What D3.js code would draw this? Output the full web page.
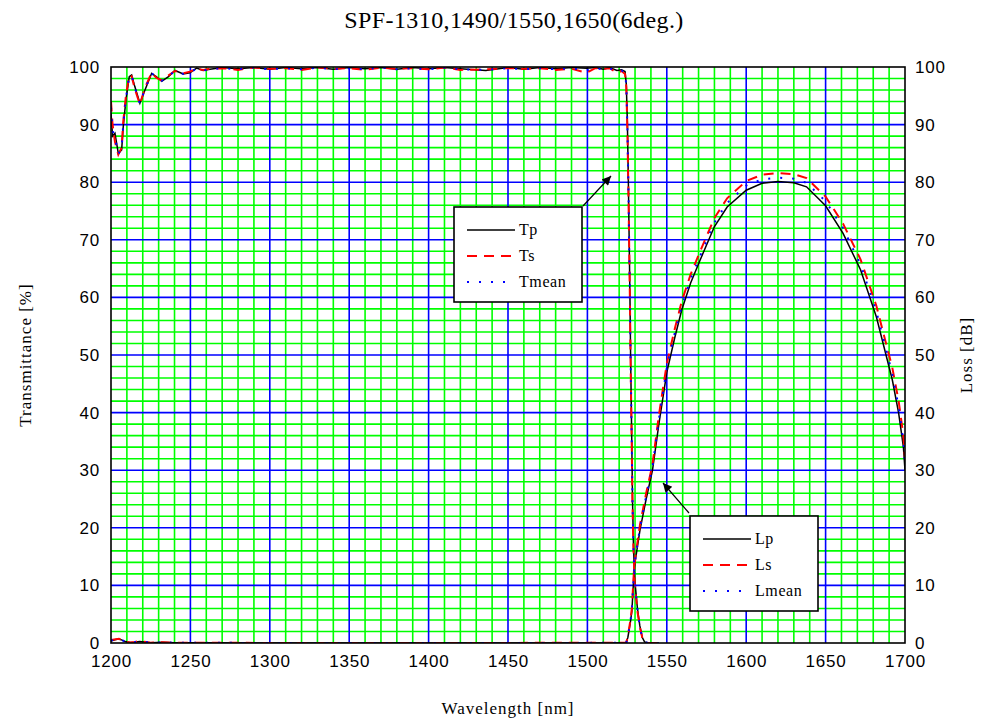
<!DOCTYPE html>
<html>
<head>
<meta charset="utf-8">
<script src="https://cdn.jsdelivr.net/npm/d3@7"></script>
<style>
  body { margin: 0; background: #fff; }
  svg { display: block; }
</style>
</head>
<body>
<div id="chart"></div>
<script>
// transmittance side (wavelength nm / percent)
var tWl = [1200,1201,1202.5,1204.6,1206.7,1207.7,1209.4,1211.5,1213,1215,1218.2,1221.4,1225.6,1228.7,1231.9,1236,1240.3,1245.5,1249.7,1253.9,1258,1262.3,1270,1280,1290,1300,1310,1320,1330,1340,1350,1360,1370,1380,1390,1400,1410,1420,1436,1450,1460,1470,1480,1490,1499.5,1505,1510,1514,1518.6,1521.5,1523.7,1524.5,1525.2,1525.8,1526.3,1526.8,1527.2,1527.8,1528.4,1529,1529.8,1531.5,1533,1534.5,1536,1538,1545];
var tp = [92,88,88.5,85,85.6,89.6,94.3,98.3,98.6,96.6,93.7,96,98.9,98.3,97.5,98.3,99.4,98.8,99,99.8,99.4,99.6,99.9,99.7,99.9,99.6,99.9,99.7,99.9,99.6,99.9,99.7,99.9,99.6,99.9,99.7,99.9,99.7,99.4,99.9,99.6,99.9,99.7,99.9,99.8,99.9,99.6,99.9,99.4,99.5,99.2,97,90,80,70,60,50,38,25,17,11,6,3,1,0.2,0,0];
var ts = [94,90,87,84.8,86,90.5,95,98.6,98.4,96.2,93.5,96.4,99,98.1,97.7,98.5,99.3,98.9,99.2,99.7,99.5,99.7,99.8,99.5,99.9,99.7,99.8,99.5,99.9,99.7,99.8,99.5,99.9,99.7,99.8,99.6,99.9,99.5,99.6,99.8,99.7,99.8,99.5,99.7,99,99.8,99.7,99.8,99,99.3,98.8,96.5,89,79,69,59,49,37,24,16.5,10.5,5.5,2.8,1,0.2,0,0];
var tmean = [93,89,87.8,84.9,85.8,90,94.6,98.5,98.5,96.4,93.6,96.2,98.9,98.2,97.6,98.4,99.3,98.8,99.1,99.7,99.4,99.6,99.8,99.6,99.9,99.6,99.8,99.6,99.9,99.6,99.8,99.6,99.9,99.6,99.8,99.6,99.9,99.6,99.5,99.8,99.6,99.8,99.6,99.8,99.4,99.8,99.6,99.8,99.2,99.4,99,96.8,89.5,79.5,69.5,59.5,49.5,37.5,24.5,16.8,10.8,5.8,2.9,1,0.2,0,0];

// loss side (wavelength nm / dB)
var lWl = [1200,1203,1205,1207,1209,1212,1215,1218,1221,1225,1229,1232,1236,1240,1250,1300,1400,1500,1520,1524.5,1525.5,1527,1528,1529.3,1530.2,1533.1,1537,1541,1545,1550,1555,1559.4,1565,1571,1580,1588,1600,1610,1620,1630,1638,1650,1661,1672,1682,1692,1696,1699,1700];
var lp = [0.35,0.6,0.7,0.5,0.25,0.07,0.15,0.28,0.18,0.05,0.08,0.11,0.08,0.03,0.04,0.01,0.01,0.02,0.04,0.1,1,3.5,5.5,12,14.4,19.6,25,30,38,47,53,57.8,62.5,66.5,72.3,75.7,78.6,79.8,80.1,79.9,79.2,75.9,71.1,64.8,56.6,45.7,39.9,34,30];
var ls = [0.5,0.65,0.75,0.45,0.2,0.08,0.18,0.32,0.2,0.06,0.1,0.13,0.09,0.03,0.05,0.01,0.01,0.03,0.05,0.1,1.2,3.8,6,12.5,15,20.5,26,31,39.5,48.5,54.5,59.3,64,68,73.8,77.2,80.2,81.3,81.6,81.4,80.7,77.5,72.8,66.6,58.5,47.8,42,36,32];
var lmean = [0.42,0.62,0.72,0.48,0.22,0.08,0.16,0.3,0.19,0.05,0.09,0.12,0.08,0.03,0.04,0.01,0.01,0.02,0.04,0.1,1.1,3.6,5.8,12.2,14.7,20,25.5,30.5,38.8,47.8,53.8,58.5,63.2,67.2,73,76.4,79.4,80.5,80.8,80.6,79.9,76.7,72,65.7,57.5,46.7,41,35,31];

var xTicks = [1200,1250,1300,1350,1400,1450,1500,1550,1600,1650,1700];
var yTicks = [0,10,20,30,40,50,60,70,80,90,100];
var tNames = ["Tp", "Ts", "Tmean"];
var lNames = ["Lp", "Ls", "Lmean"];

var width = 985, height = 719;
var margin = {top: 67, right: 80, bottom: 76, left: 111};
var w = width - margin.left - margin.right;
var h = height - margin.top - margin.bottom;

var svg = d3.select("#chart").append("svg")
    .attr("width", width)
    .attr("height", height);

var x = d3.scaleLinear().domain([1200, 1700]).range([0, w]);
var y = d3.scaleLinear().domain([0, 100]).range([h, 0]);
var yR = d3.scaleLinear().domain([0, 100]).range([h, 0]);

var g = svg.append("g").attr("transform", "translate(" + margin.left + "," + margin.top + ")");

g.append("defs").append("clipPath").attr("id", "clip")
    .append("rect").attr("width", w).attr("height", h);

svg.append("defs").append("marker")
    .attr("id", "arrow")
    .attr("viewBox", "0 0 10 10")
    .attr("refX", 10).attr("refY", 5)
    .attr("markerWidth", 11).attr("markerHeight", 9)
    .attr("markerUnits", "userSpaceOnUse")
    .attr("orient", "auto")
    .append("path").attr("d", "M0,0L10,5L0,10z").attr("fill", "#000");

// grid: green minor first, blue major on top
var minorX = d3.range(1210, 1700, 10).filter(function (d) { return d % 50 != 0; });
var minorY = d3.range(2, 100, 2).filter(function (d) { return d % 10 != 0; });

g.selectAll(".gx").data(minorX).enter().append("line")
    .attr("x1", d => x(d)).attr("x2", d => x(d))
    .attr("y1", 0).attr("y2", h)
    .attr("stroke", "#00ff00").attr("stroke-width", 1.6);
g.selectAll(".gy").data(minorY).enter().append("line")
    .attr("y1", d => y(d)).attr("y2", d => y(d))
    .attr("x1", 0).attr("x2", w)
    .attr("stroke", "#00ff00").attr("stroke-width", 1.6);
g.selectAll(".bx").data(xTicks.slice(1, -1)).enter().append("line")
    .attr("x1", d => x(d)).attr("x2", d => x(d))
    .attr("y1", 0).attr("y2", h)
    .attr("stroke", "#0000ff").attr("stroke-width", 1.6);
g.selectAll(".by").data(yTicks.slice(1, -1)).enter().append("line")
    .attr("y1", d => y(d)).attr("y2", d => y(d))
    .attr("x1", 0).attr("x2", w)
    .attr("stroke", "#0000ff").attr("stroke-width", 1.6);

// curves
var styles = [
    {color: "#000", width: 1.5, dash: null},
    {color: "#ff0000", width: 2, dash: "10,7"},
    {color: "#0000ff", width: 2, dash: "2,10"}
];

function drawSeries(wl, vals, st, scale) {
    var line = d3.line()
        .x(function (d, i) { return x(wl[i]); })
        .y(function (d) { return scale(d); });
    g.append("path")
        .datum(vals)
        .attr("clip-path", "url(#clip)")
        .attr("fill", "none")
        .attr("stroke", st.color)
        .attr("stroke-width", st.width)
        .attr("stroke-dasharray", st.dash)
        .attr("d", line);
}

// draw solid first, dashed and dotted on top
drawSeries(tWl, tp, styles[0], y);
drawSeries(lWl, lp, styles[0], yR);
drawSeries(tWl, ts, styles[1], y);
drawSeries(lWl, ls, styles[1], yR);
drawSeries(tWl, tmean, styles[2], y);
drawSeries(lWl, lmean, styles[2], yR);

// frame
g.append("rect").attr("width", w).attr("height", h)
    .attr("fill", "none").attr("stroke", "#000").attr("stroke-width", 1.6);

// axes
var tickFont = "'Liberation Sans', Arial, sans-serif";
function styleAxis(sel) {
    sel.select(".domain").remove();
    sel.selectAll("text")
        .style("font-family", tickFont)
        .style("font-size", "17px")
        .style("letter-spacing", "0.8px")
        .attr("fill", "#000");
}

g.append("g")
    .call(d3.axisLeft(y).tickValues(yTicks).tickSize(0).tickPadding(11))
    .call(styleAxis);
g.append("g")
    .attr("transform", "translate(" + w + ",0)")
    .call(d3.axisRight(yR).tickValues(yTicks).tickSize(0).tickPadding(10))
    .call(styleAxis);
g.append("g")
    .attr("transform", "translate(0," + h + ")")
    .call(d3.axisBottom(x).tickValues(xTicks).tickSize(0).tickPadding(12).tickFormat(d3.format("d")))
    .call(styleAxis);

// titles
var serif = "'Liberation Serif', 'Times New Roman', serif";
svg.append("text")
    .attr("x", 514).attr("y", 28)
    .attr("text-anchor", "middle")
    .style("font-family", serif).style("font-size", "24px")
    .style("letter-spacing", "0.4px")
    .text("SPF-1310,1490/1550,1650(6deg.)");

svg.append("text")
    .attr("x", margin.left + w / 2).attr("y", 714)
    .attr("text-anchor", "middle")
    .style("font-family", serif).style("font-size", "17px")
    .style("letter-spacing", "1px")
    .text("Wavelength [nm]");

svg.append("text")
    .attr("transform", "translate(31," + (margin.top + h / 2) + ") rotate(-90)")
    .attr("text-anchor", "middle")
    .style("font-family", serif).style("font-size", "17px")
    .style("letter-spacing", "1px")
    .text("Transmittance [%]");

svg.append("text")
    .attr("transform", "translate(972," + (margin.top + h / 2) + ") rotate(-90)")
    .attr("text-anchor", "middle")
    .style("font-family", serif).style("font-size", "17px")
    .style("letter-spacing", "1px")
    .text("Loss [dB]");

// legends with pointer arrows
function legend(bx, by, names, arrowFrom, arrowTo) {
    svg.append("line")
        .attr("x1", arrowFrom[0]).attr("y1", arrowFrom[1])
        .attr("x2", arrowTo[0]).attr("y2", arrowTo[1])
        .attr("stroke", "#000").attr("stroke-width", 1.2)
        .attr("marker-end", "url(#arrow)");
    var lg = svg.append("g").attr("transform", "translate(" + bx + "," + by + ")");
    lg.append("rect").attr("width", 128).attr("height", 95)
        .attr("fill", "#fff").attr("stroke", "#000").attr("stroke-width", 1.6);
    names.forEach(function (n, i) {
        var ly = 23 + i * 26;
        lg.append("line")
            .attr("x1", 13).attr("x2", 61)
            .attr("y1", ly).attr("y2", ly)
            .attr("stroke", styles[i].color)
            .attr("stroke-width", styles[i].width)
            .attr("stroke-dasharray", styles[i].dash);
        lg.append("text")
            .attr("x", 65).attr("y", ly + 5)
            .style("font-family", serif).style("font-size", "16px")
            .style("letter-spacing", "0.6px")
            .text(n);
    });
}

legend(454, 207, tNames, [583, 206], [611, 176]);
legend(690, 516, lNames, [689, 513], [663, 483]);
</script>
</body>
</html>
